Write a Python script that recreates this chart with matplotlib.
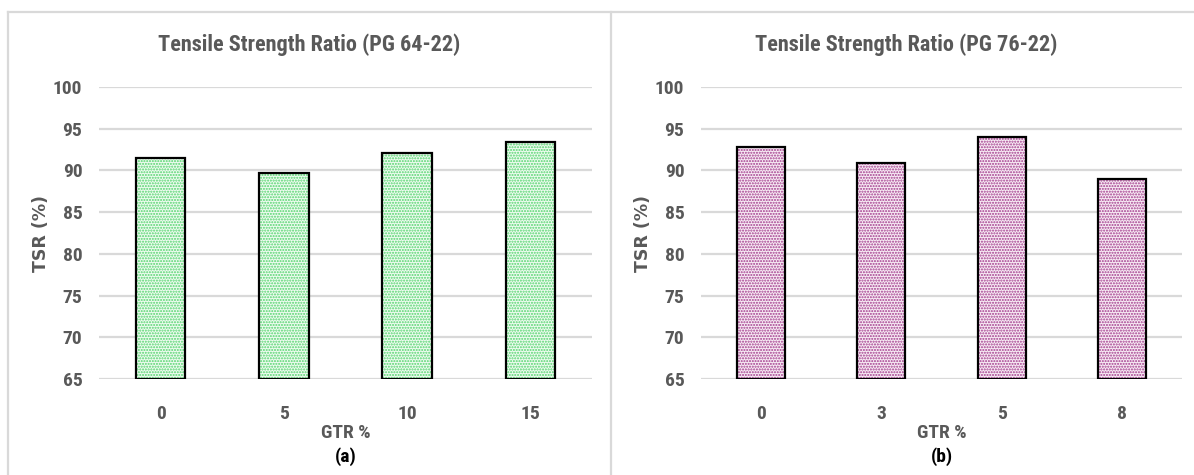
import matplotlib
matplotlib.use("Agg")
import matplotlib.pyplot as plt
from matplotlib import font_manager
from matplotlib.lines import Line2D

# Data
gtr_a = ["0", "5", "10", "15"]
tsr_a = [91.45, 89.73, 92.09, 93.45]
gtr_b = ["0", "3", "5", "8"]
tsr_b = [92.77, 90.85, 94.04, 88.97]
titles = ["Tensile Strength Ratio (PG 64-22)", "Tensile Strength Ratio (PG 76-22)"]
panel_tags = ["(a)", "(b)"]
y_ticks = [65, 70, 75, 80, 85, 90, 95, 100]

available = {f.name for f in font_manager.fontManager.ttflist}
narrow = next((n for n in ["Liberation Sans Narrow", "Roboto Condensed", "Open Sans Condensed",
                           "Roboto", "Liberation Sans"] if n in available), "DejaVu Sans")

TEXT = "#595959"
GRID = "#d9d9d9"

W, H = 1194, 475
fig = plt.figure(figsize=(W / 100, H / 100), dpi=100)

def fx(px):
    return px / W

def fy(py):
    return 1 - py / H

# Chart area borders
fig.add_artist(Line2D([fx(8), 1.0], [fy(12), fy(12)], color=GRID, lw=1.6))
fig.add_artist(Line2D([fx(8), fx(8)], [fy(12), 0.0], color=GRID, lw=1.6))
fig.add_artist(Line2D([fx(611), fx(611)], [fy(12), 0.0], color=GRID, lw=1.6))

panels = [
    dict(x0=99, x1=592, cats=gtr_a, vals=tsr_a, dots="#52d46c", face="#eefbf0",
         title=titles[0], tag=panel_tags[0], title_cx=309, ylab_x=41),
    dict(x0=701, x1=1182, cats=gtr_b, vals=tsr_b, dots="#a23a8c", face="#f7ebf4",
         title=titles[1], tag=panel_tags[1], title_cx=906, ylab_x=643),
]

top_px, bot_px = 87, 379
for p in panels:
    ax = fig.add_axes([fx(p["x0"]), fy(bot_px), fx(p["x1"] - p["x0"]), (bot_px - top_px) / H])
    xs = range(len(p["cats"]))
    ax.bar(xs, [v - 65 for v in p["vals"]], bottom=65, width=0.4, color=p["face"],
           edgecolor=p["dots"], hatch="......", linewidth=0, zorder=2)
    ax.bar(xs, [v - 65 for v in p["vals"]], bottom=65, width=0.4, facecolor="none",
           edgecolor="black", linewidth=1.6, zorder=3)
    ax.set_xlim(-0.5, len(p["cats"]) - 0.5)
    ax.set_ylim(65, 100)
    ax.set_yticks(y_ticks)
    ax.set_xticks(list(xs))
    ax.set_xticklabels(p["cats"])
    ax.yaxis.grid(True, color=GRID, lw=1.6, zorder=0)
    ax.set_axisbelow(True)
    for s in ax.spines.values():
        s.set_visible(False)
    ax.tick_params(length=0)
    ax.tick_params(axis="y", pad=12)
    ax.tick_params(axis="x", pad=19)
    for lab in ax.get_xticklabels() + ax.get_yticklabels():
        lab.set_fontfamily(narrow)
        lab.set_fontsize(14)
        lab.set_fontweight("bold")
        lab.set_color(TEXT)
    cx = (p["x0"] + p["x1"]) / 2
    fig.text(fx(p["title_cx"]), fy(45), p["title"], ha="center", va="center",
             family=narrow, fontsize=16, fontweight="bold", color=TEXT)
    fig.text(fx(p["ylab_x"]), fy((top_px + bot_px) / 2), "TSR (%)", rotation=90,
             ha="center", va="center", family="DejaVu Sans", fontsize=12.5,
             fontweight="bold", color=TEXT)
    fig.text(fx(cx), fy(433), "GTR %", ha="center", va="center", family=narrow,
             fontsize=14, fontweight="bold", color=TEXT)
    fig.text(fx(cx), fy(457), p["tag"], ha="center", va="center", family=narrow,
             fontsize=14, fontweight="bold", color="black")

fig.savefig("out.png", dpi=100)
